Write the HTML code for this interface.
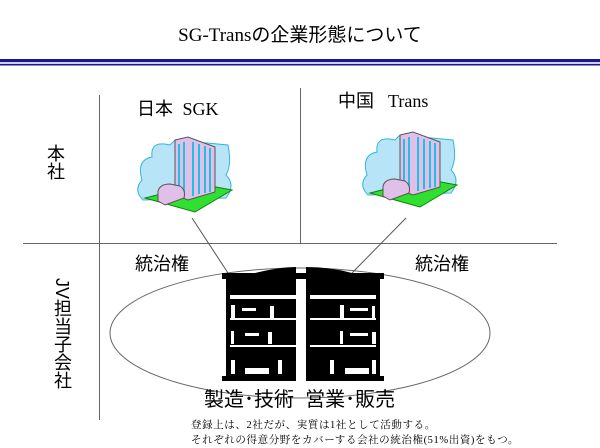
<!DOCTYPE html>
<html><head><meta charset="utf-8"><style>
body{margin:0;width:600px;height:448px;background:#fff;overflow:hidden;position:relative;font-family:"Liberation Sans","Noto Sans CJK JP",sans-serif;}
.t{position:absolute;white-space:nowrap;color:#000;}
.ser{font-family:"Liberation Serif","Noto Serif CJK SC",serif;}
</style></head><body>
<svg width="600" height="448" style="position:absolute;left:0;top:0">
<rect x="0" y="59" width="600" height="3" fill="#1a1a8c"/>
<rect x="0" y="62.5" width="600" height="1" fill="#9aa0d8"/>
<rect x="0" y="64" width="600" height="1.5" fill="#1a1a8c"/>
<line x1="99.5" y1="95" x2="99.5" y2="420" stroke="#666" stroke-width="1"/>
<line x1="300.5" y1="88" x2="300.5" y2="243" stroke="#666" stroke-width="1"/>
<line x1="23" y1="243.5" x2="557" y2="243.5" stroke="#666" stroke-width="1"/>
<ellipse cx="300" cy="333" rx="190" ry="65" fill="none" stroke="#666" stroke-width="1"/>
<line x1="192" y1="218" x2="228" y2="273" stroke="#555"/>
<line x1="406" y1="218" x2="352" y2="273" stroke="#555"/>
<g id="cl">
<path d="M143 200 Q133 190 142 180 Q136 160 152 157 Q150 140 170 145 L175 140 L228 145 Q232 165 226 175 Q236 185 226 198 Z" fill="#b8e4f8" stroke="#30b8d8"/>
<path d="M145 198 L195 212 L232 190 L200 184 Z" fill="#30e030" stroke="#108010"/>
<path d="M175 140 L188 137 L215 147 L215 192 L188 200 L175 195 Z" fill="#e0c0e8" stroke="#555"/>
<g stroke="#20c0e0" stroke-width="2"><line x1="179" y1="144" x2="179" y2="194"/><line x1="184" y1="142" x2="184" y2="196"/><line x1="193" y1="142" x2="193" y2="196"/><line x1="199" y1="144" x2="199" y2="194"/><line x1="205" y1="146" x2="205" y2="193"/><line x1="210" y1="148" x2="210" y2="192"/></g>
<path d="M158 191 Q160 184 170 184 L180 186 Q186 190 184 198 L165 205 L158 201 Z" fill="#e0c0e8" stroke="#555"/>
</g>
<use href="#cl" transform="translate(225,-5)"/>
<g>
<rect x="222" y="273" width="162" height="6" fill="#000"/>
<path d="M255 273 Q280 267 296 267 L296 273 Z M306 267 Q330 267 352 273 L306 273Z" fill="#000"/>
<rect x="226" y="279" width="70" height="100" fill="#000"/>
<rect x="306" y="279" width="74" height="100" fill="#000"/>
<rect x="222" y="376" width="74" height="5" fill="#000"/>
<rect x="306" y="376" width="78" height="5" fill="#000"/>
<g fill="#fff">
<rect x="230" y="295" width="66" height="4"/><rect x="230" y="318" width="66" height="2"/><rect x="230" y="345" width="66" height="2"/>
<rect x="310" y="295" width="66" height="4"/><rect x="310" y="318" width="66" height="2"/><rect x="310" y="345" width="66" height="2"/>
<rect x="231" y="305" width="4" height="13"/><rect x="242" y="308" width="14" height="3"/><rect x="270" y="306" width="4" height="12"/>
<rect x="231" y="331" width="3" height="13"/><rect x="245" y="333" width="14" height="3"/><rect x="268" y="332" width="4" height="12"/>
<rect x="231" y="360" width="4" height="14"/><rect x="245" y="368" width="24" height="6"/><rect x="278" y="360" width="4" height="14"/>
<rect x="340" y="305" width="4" height="13"/><rect x="350" y="308" width="18" height="3"/><rect x="372" y="306" width="3" height="12"/>
<rect x="340" y="331" width="3" height="13"/><rect x="350" y="333" width="18" height="3"/><rect x="372" y="332" width="4" height="12"/>
<rect x="330" y="360" width="4" height="14"/><rect x="345" y="368" width="24" height="6"/><rect x="372" y="360" width="4" height="14"/>
</g>
</g>
</svg>
<div class="t" style="left:0;width:600px;top:20px;text-align:center;font-size:19px;font-family:'Liberation Serif','Noto Sans CJK JP',serif;">SG-Transの企業形態について</div>
<div class="t" style="left:137px;top:95px;font-size:18px;">日本 <span style="font-family:'Liberation Serif',serif">&nbsp;SGK</span></div>
<div class="t" style="left:338px;top:87px;font-size:18px;">中国 <span style="font-family:'Liberation Serif',serif">&nbsp;&nbsp;Trans</span></div>
<div class="t" style="left:45px;top:144px;font-size:18px;writing-mode:vertical-rl;line-height:20px;">本社</div>
<div class="t" style="left:52px;top:278px;font-size:18px;writing-mode:vertical-rl;line-height:20px;">JV担当子会社</div>
<div class="t" style="left:135px;top:250px;font-size:18px;">統治権</div>
<div class="t" style="left:415px;top:250px;font-size:18px;">統治権</div>
<div class="t" style="left:204px;top:383px;font-size:20px;">製造･技術&nbsp;&nbsp;営業･販売</div>
<div class="t" style="left:191px;top:418px;font-size:10.5px;line-height:15px;font-family:'Liberation Serif','Noto Serif CJK SC',serif;letter-spacing:0.6px;">登録上は、2社だが、実質は1社として活動する。<br>それぞれの得意分野をカバーする会社の統治権(51%出資)をもつ。</div>
</body></html>
